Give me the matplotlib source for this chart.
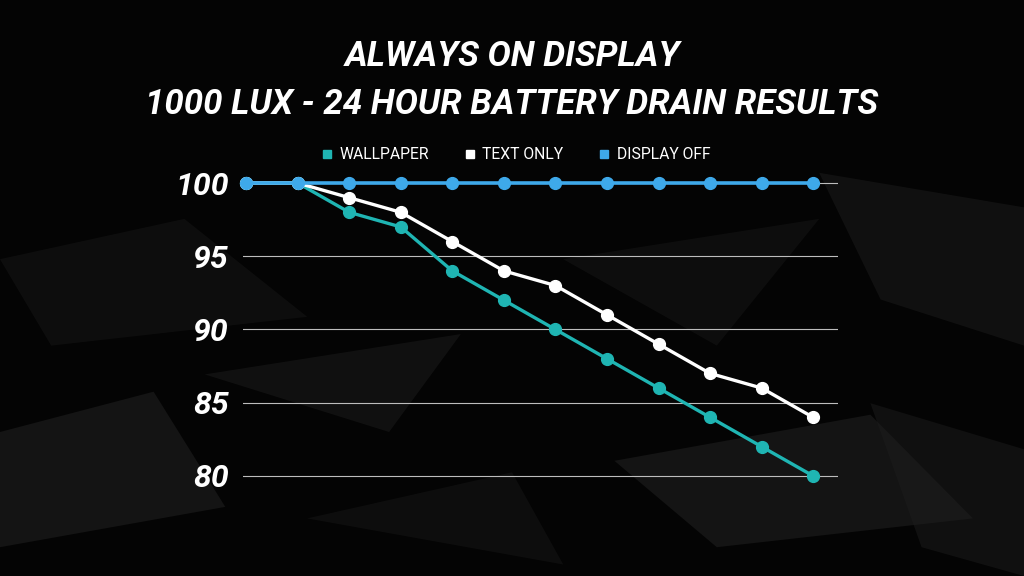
import matplotlib.pyplot as plt
from matplotlib.patches import Polygon

hours = list(range(12))
wallpaper = [100, 100, 98, 97, 94, 92, 90, 88, 86, 84, 82, 80]
text_only = [100, 100, 99, 98, 96, 94, 93, 91, 89, 87, 86, 84]
display_off = [100, 100, 100, 100, 100, 100, 100, 100, 100, 100, 100, 100]
yticks = [80, 85, 90, 95, 100]

teal = "#1fb5b3"
blue = "#3ea9ea"

fig = plt.figure(figsize=(10.24, 5.76), dpi=100, facecolor="#040404")

# faint low-poly background texture
shapes = [
    [(0.0, 0.55), (0.18, 0.62), (0.30, 0.45), (0.05, 0.40)],
    [(0.20, 0.35), (0.45, 0.42), (0.38, 0.25)],
    [(0.0, 0.25), (0.15, 0.32), (0.22, 0.12), (0.0, 0.05)],
    [(0.55, 0.55), (0.80, 0.62), (0.70, 0.40)],
    [(0.80, 0.70), (1.0, 0.64), (1.0, 0.40), (0.86, 0.48)],
    [(0.60, 0.20), (0.85, 0.28), (0.95, 0.10), (0.70, 0.05)],
    [(0.30, 0.10), (0.50, 0.18), (0.55, 0.02)],
    [(0.85, 0.30), (1.0, 0.22), (1.0, 0.0), (0.90, 0.05)],
]
for i, pts in enumerate(shapes):
    shade = 0.09 + 0.025 * (i % 3)
    fig.patches.append(Polygon(pts, closed=True, transform=fig.transFigure,
                               facecolor=(shade, shade, shade), edgecolor="none",
                               alpha=0.5, zorder=-5))

ax = fig.add_axes([0.2373, 0.161, 0.581, 0.534])
ax.set_facecolor("none")
ax.set_zorder(5)

for y in yticks:
    ax.axhline(y, color="#bdbdbd", lw=0.8, zorder=1)

ax.plot(hours, wallpaper, color=teal, lw=2.4, marker="o", ms=8.5, zorder=3, clip_on=False)
ax.plot(hours, text_only, color="white", lw=2.4, marker="o", ms=8.5, zorder=4, clip_on=False)
ax.plot(hours, display_off, color=blue, lw=2.6, marker="o", ms=8.5, zorder=5, clip_on=False)

ax.set_xlim(-0.06, 11.48)
ax.set_ylim(79.5, 100.5)
ax.set_xticks([])
ax.set_yticks(yticks)
ax.set_yticklabels([str(v) for v in yticks], fontfamily="Roboto", fontweight="bold",
                   fontstyle="italic", fontsize=23, color="white")
ax.tick_params(axis="y", length=0, pad=10)
for s in ax.spines.values():
    s.set_visible(False)

handles = [
    plt.Line2D([], [], ls="none", marker="s", ms=6, color=teal),
    plt.Line2D([], [], ls="none", marker="s", ms=6, color="white"),
    plt.Line2D([], [], ls="none", marker="s", ms=6, color=blue),
]
leg = fig.legend(handles, ["WALLPAPER", "TEXT ONLY", "DISPLAY OFF"], loc="center",
                 bbox_to_anchor=(0.504, 0.731), ncol=3, frameon=False,
                 handlelength=0.6, handletextpad=0.5, columnspacing=2.3,
                 prop={"family": "Roboto", "size": 11.3})
for t in leg.get_texts():
    t.set_color("white")

fig.text(0.5, 0.902, "ALWAYS ON DISPLAY", ha="center", va="center", color="white",
         fontfamily="Roboto", fontweight="bold", fontstyle="italic", fontsize=25)
fig.text(0.5, 0.819, "1000 LUX - 24 HOUR BATTERY DRAIN RESULTS", ha="center", va="center",
         color="white", fontfamily="Roboto", fontweight="bold", fontstyle="italic", fontsize=25)

fig.savefig("out.png", dpi=100, facecolor=fig.get_facecolor())
